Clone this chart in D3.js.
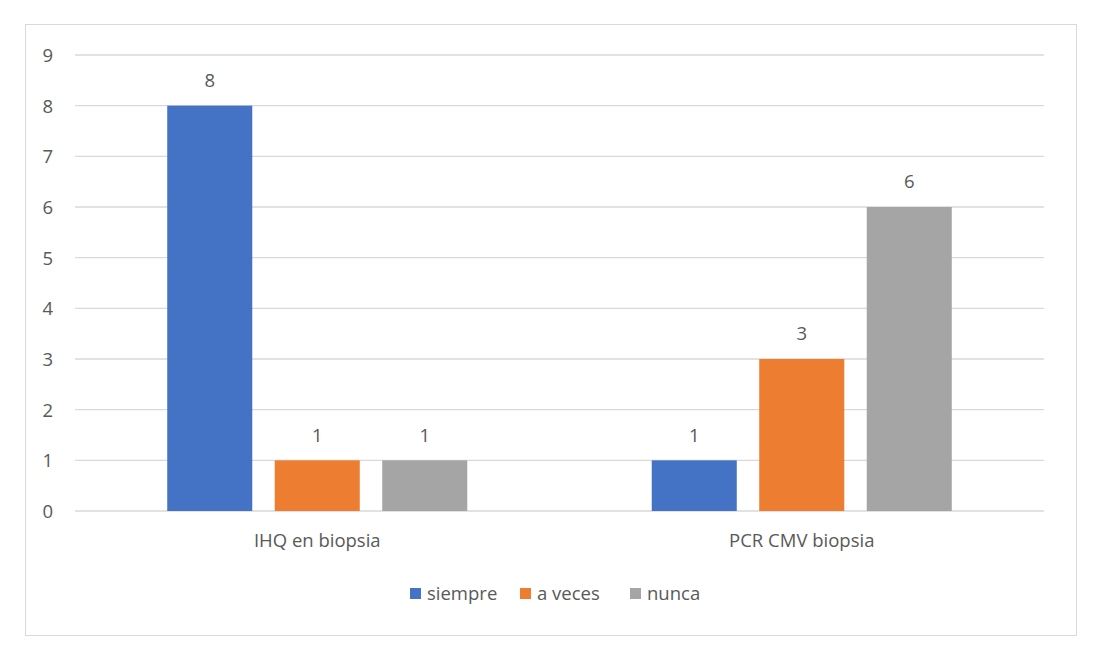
<!DOCTYPE html>
<html><head><meta charset="utf-8">
<script src="https://cdn.jsdelivr.net/npm/d3@7"></script>
<style>body{margin:0;background:#fff}svg{display:block}text{font-family:"Open Sans",sans-serif;fill:#595959}</style>
</head><body>
<script>
const categories = ["IHQ en biopsia", "PCR CMV biopsia"];
const seriesNames = ["siempre", "a veces", "nunca"];
const siempre = [8, 1];
const aVeces = [1, 3];
const nunca = [1, 6];
const yTicks = [0,1,2,3,4,5,6,7,8,9];
const colors = ["#4472C4", "#ED7D31", "#A5A5A5"];
const seriesValues = [siempre, aVeces, nunca];

(function(){
const W = 1101, H = 667, FS = 18.5;
const svg = d3.select("body").append("svg").attr("width", W).attr("height", H);
svg.append("rect").attr("x", 25.5).attr("y", 24.5).attr("width", 1051).attr("height", 611)
  .attr("fill", "#fff").attr("stroke", "#D9D9D9").attr("stroke-width", 1);

const pl = 75, pr = 1044, pt = 55, pb = 511;
const y = d3.scaleLinear().domain([0, 9]).range([pb, pt]);
const x0 = d3.scaleBand().domain(categories).range([pl, pr]).padding(0);
const x1 = d3.scaleBand().domain(seriesNames).range([0, x0.bandwidth()]).paddingInner(0.209).paddingOuter(0.858);

const grid = svg.append("g");
grid.selectAll("line").data(yTicks).join("line")
  .attr("x1", pl).attr("x2", pr)
  .attr("y1", d => y(d)).attr("y2", d => y(d))
  .attr("stroke", "#D9D9D9").attr("stroke-width", 1.3);

const yAxis = d3.axisLeft(y).tickValues(yTicks).tickSize(0).tickPadding(0);
const ya = svg.append("g").attr("transform", `translate(53,0)`).call(yAxis);
ya.select(".domain").remove();
ya.selectAll("text").attr("font-size", FS).style("fill", "#595959").attr("text-anchor", "end").attr("dy", "0.35em");

const xAxis = d3.axisBottom(x0).tickSize(0).tickPadding(0);
const xa = svg.append("g").attr("transform", `translate(0,${pb + 19})`).call(xAxis);
xa.select(".domain").remove();
xa.selectAll("text").attr("font-size", FS).style("fill", "#595959").attr("dy", "0.35em").attr("y", 11);

const data = [];
categories.forEach((c, i) => seriesNames.forEach((s, j) => data.push({c, s, j, v: seriesValues[j][i]})));

svg.append("g").selectAll("rect").data(data).join("rect")
  .attr("x", d => x0(d.c) + x1(d.s))
  .attr("y", d => y(d.v))
  .attr("width", x1.bandwidth())
  .attr("height", d => y(0) - y(d.v))
  .attr("fill", d => colors[d.j]);

svg.append("g").selectAll("text").data(data).join("text")
  .attr("x", d => x0(d.c) + x1(d.s) + x1.bandwidth() / 2)
  .attr("y", d => y(d.v) - 25)
  .attr("text-anchor", "middle").attr("dy", "0.35em")
  .attr("font-size", FS).text(d => d.v);

const legendX = [410, 520, 630];
const lg = svg.append("g");
seriesNames.forEach((s, j) => {
  lg.append("rect").attr("x", legendX[j]).attr("y", 588).attr("width", 11).attr("height", 11).attr("fill", colors[j]);
  lg.append("text").attr("x", legendX[j] + 17).attr("y", 594).attr("dy", "0.35em").attr("font-size", FS).text(s);
});
})();
</script>
</body></html>
